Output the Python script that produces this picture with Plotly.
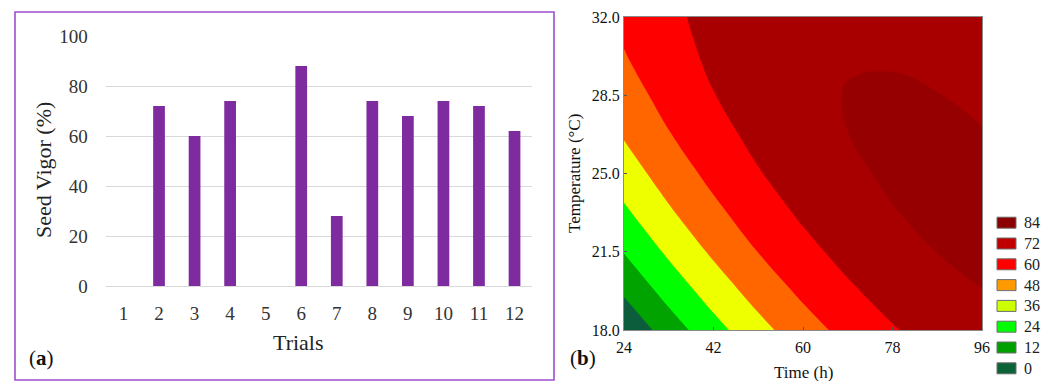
import plotly.graph_objects as go

W, H = 1045, 381

# ---------------- data ----------------
trials = ["1", "2", "3", "4", "5", "6", "7", "8", "9", "10", "11", "12"]
seed_vigor = [0, 72, 60, 74, 0, 88, 28, 74, 68, 74, 72, 62]

time_h = [24, 33, 42, 51, 60, 69, 78, 87, 96]
temp_c = [18, 19.75, 21.5, 23.25, 25, 26.75, 28.5, 30.25, 32]
# estimated seed vigor surface (rows = temperature, cols = time)
vigor_surface = [
    [1.98, 17.73, 31.78, 44.15, 54.82, 63.81, 71.10, 76.71, 80.62],
    [13.85, 28.51, 41.49, 52.78, 62.37, 70.28, 76.50, 81.02, 83.86],
    [24.49, 38.08, 49.98, 60.19, 68.71, 75.53, 80.67, 84.12, 85.88],
    [33.91, 46.42, 57.24, 66.37, 73.81, 79.56, 83.63, 86.00, 86.68],
    [42.11, 53.54, 63.29, 71.34, 77.70, 82.37, 85.36, 86.65, 86.25],
    [49.09, 59.44, 68.11, 75.08, 80.36, 83.96, 85.86, 86.08, 84.60],
    [54.84, 64.12, 71.70, 77.60, 81.81, 84.32, 85.15, 84.28, 81.73],
    [59.37, 67.57, 74.08, 78.90, 82.02, 83.46, 83.21, 81.27, 77.64],
    [62.68, 69.80, 75.23, 78.97, 81.02, 81.38, 80.05, 77.03, 72.32],
]

time_ticks = [24, 42, 60, 78, 96]
temp_ticks = [18.0, 21.5, 25.0, 28.5, 32.0]

legend_levels = [84, 72, 60, 48, 36, 24, 12, 0]
legend_colors = ["#8b0000", "#c00000", "#ff0000", "#ff9900",
                 "#ccff00", "#00ff00", "#00a000", "#0a6438"]
# fill colours of the bands, lowest band first
band_colors = ["#0b5d3b", "#00a300", "#00ff00", "#eeff00",
               "#ff6600", "#ff0000", "#a80000", "#960000"]

FONT = "Liberation Serif"

# stepped colorscale: band k centred at k/7
n = len(band_colors)
cscale = []
for k, c in enumerate(band_colors):
    lo = max(0.0, (2 * k - 1) / (2 * (n - 1)))
    hi = min(1.0, (2 * k + 1) / (2 * (n - 1)))
    cscale.append([lo, c])
    cscale.append([hi, c])

fig = go.Figure()

fig.add_trace(go.Bar(
    x=trials, y=seed_vigor, marker=dict(color="#7e2ba0", line=dict(width=0)),
    xaxis="x", yaxis="y", showlegend=False,
))

fig.add_trace(go.Contour(
    x=time_h, y=temp_c, z=vigor_surface,
    autocontour=False,
    contours=dict(start=12, end=84, size=12, coloring="fill", showlines=False),
    colorscale=cscale, showscale=False,
    line=dict(width=0, smoothing=1.3),
    xaxis="x2", yaxis="y2", showlegend=False,
))

px = lambda v: v / W
py = lambda v: 1 - v / H

shapes = [
    dict(type="rect", xref="paper", yref="paper",
         x0=px(15), x1=px(554), y0=py(380), y1=py(12),
         line=dict(color="#9d4fcc", width=1.6), fillcolor="rgba(0,0,0,0)"),
]
annotations = [
    dict(text="Seed Vigor (%)", x=px(43), y=py(170), textangle=-90,
         font=dict(size=22, color="#222", family=FONT)),
    dict(text="Trials", x=px(298), y=py(342),
         font=dict(size=22, color="#222", family=FONT)),
    dict(text="(<b>a</b>)", x=px(41), y=py(358),
         font=dict(size=21, color="#111", family=FONT)),
    dict(text="Time (h)", x=px(803), y=py(372),
         font=dict(size=17, color="#111", family=FONT)),
    dict(text="Temperature (°C)", x=px(574), y=py(174), textangle=-90,
         font=dict(size=17, color="#111", family=FONT)),
    dict(text="(<b>b</b>)", x=px(583), y=py(358),
         font=dict(size=21, color="#111", family=FONT)),
]
row0, step = 222.7, 20.8
for i, (lev, col) in enumerate(zip(legend_levels, legend_colors)):
    yc = row0 + i * step
    shapes.append(dict(type="rect", xref="paper", yref="paper",
                       x0=px(997), x1=px(1016), y0=py(yc + 5.5), y1=py(yc - 5.5),
                       fillcolor=col, line=dict(color="#6e6e6e", width=1)))
    annotations.append(dict(text=str(lev), x=px(1022), y=py(yc), xanchor="left",
                            font=dict(size=16, color="#222", family=FONT)))
for a in annotations:
    a.update(xref="paper", yref="paper", showarrow=False)
    a.setdefault("xanchor", "center")
    a.setdefault("yanchor", "middle")

fig.update_layout(
    width=W, height=H, autosize=False,
    margin=dict(l=0, r=0, t=0, b=0, pad=0),
    paper_bgcolor="white", plot_bgcolor="white",
    font=dict(family=FONT, color="#222"),
    bargap=0.67,
    shapes=shapes, annotations=annotations,
    xaxis=dict(domain=[px(105.7), px(532.3)], anchor="y", type="category",
               automargin=False,
               showgrid=False, showline=False, zeroline=False, ticks="",
               ticklabelstandoff=14,
               tickfont=dict(size=19, color="#333", family=FONT)),
    yaxis=dict(domain=[py(286), py(36)], anchor="x", range=[0, 100], dtick=20,
               automargin=False,
               showgrid=True, gridcolor="#d9d9d9", gridwidth=1.4,
               zeroline=True, zerolinecolor="#d9d9d9", zerolinewidth=1.4,
               showline=False, ticks="", ticklabelstandoff=17,
               tickfont=dict(size=19, color="#333", family=FONT)),
    xaxis2=dict(domain=[px(624), px(982)], anchor="y2", range=[24, 96],
                automargin=False,
                tickvals=time_ticks, showgrid=False, zeroline=False,
                showline=True, mirror=True, linecolor="#8a8a8a", linewidth=1,
                ticks="inside", ticklen=3, tickcolor="#555",
                ticklabelstandoff=3,
                tickfont=dict(size=16, color="#111", family=FONT)),
    yaxis2=dict(domain=[py(330), py(17)], anchor="x2", range=[18, 32],
                automargin=False,
                tickvals=temp_ticks, tickformat=".1f", showgrid=False,
                zeroline=False, showline=True, mirror=True,
                linecolor="#8a8a8a", linewidth=1,
                ticks="inside", ticklen=3, tickcolor="#555",
                tickfont=dict(size=16, color="#111", family=FONT)),
)

fig.write_html("out.html",
               config={"displayModeBar": False},
               post_script="document.body.style.margin='0';"
                           "document.body.style.overflow='hidden';")
